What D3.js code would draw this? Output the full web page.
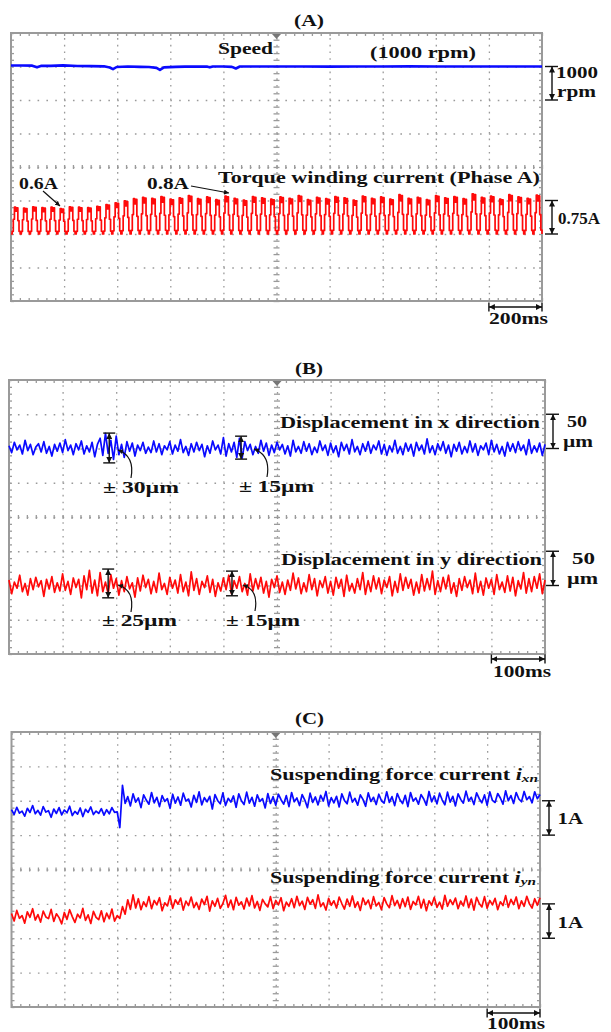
<!DOCTYPE html>
<html>
<head>
<meta charset="utf-8">
<script src="https://cdn.jsdelivr.net/npm/d3@7"></script>
<style>
  body { margin: 0; background: #fff; }
  svg { display: block; }
  text { font-family: "Liberation Serif", "Times New Roman", serif; font-weight: bold; fill: #111; }
</style>
</head>
<body>
<svg id="chart" width="611" height="1032"></svg>
<script>
// ---- Data ----

// (A) speed, rpm, 200 ms/div
const speedT = [0, 40, 80, 98, 115, 150, 196, 250, 300, 350, 372, 384, 398, 440, 486, 520, 548, 561, 576, 620,
  655, 700, 740, 749, 760, 800, 832, 847, 862, 900, 987, 1100, 1200, 1300, 1400, 1500, 1600, 1700, 1800, 1900, 2000];
const speedV = [1030, 1030, 1025, 975, 1020, 1020, 1035, 1015, 1010, 1005, 970, 920, 985, 1000, 990, 985, 960, 900, 975, 990,
  995, 1000, 995, 975, 1000, 1000, 990, 940, 1000, 1000, 1000, 1000, 995, 1000, 1000, 1005, 1000, 1000, 1000, 1000, 1000];

// (A) torque winding current: peak of each electrical cycle (A) and the stepped cycle shape
const torquePeaks = [0.60, 0.58, 0.61, 0.59, 0.60, 0.57, 0.61, 0.60, 0.59, 0.62,
  0.66, 0.70, 0.74, 0.79, 0.82, 0.80, 0.84, 0.78, 0.81, 0.86,
  0.79, 0.83, 0.77, 0.85, 0.80, 0.76, 0.84, 0.81, 0.78, 0.83,
  0.80, 0.86, 0.77, 0.82, 0.79, 0.84, 0.81, 0.76, 0.85, 0.80,
  0.83, 0.78, 0.88, 0.80, 0.82, 0.77, 0.86, 0.81, 0.84, 0.79,
  0.90, 0.82, 0.85, 0.78, 0.88, 0.83, 0.80, 0.87];
const torqueShape = [0, 0.1, 0.55, 1.0, 0.85, 0.98, 0.5, 0.1];

// (B) displacement, um, 100 ms/div, one sample every 5 ms
const SAMPLE_MS = 5;
const dispX = [4, -6, 9, -2, 5, -8, 12, -3, 6, -9, 2, 7, -5, 10, -7, 3, -11, 6, -4, 8,
  -6, 13, -3, 5, -9, 7, -2, 11, -8, 4, -5, 9, -12, 6, 15, -10, 22, -7, 12, -16,
  18, -9, 6, -13, 10, -4, 8, -11, 5, -3, 9, -7, 2, -6, 11, -5, 7, -9, 4, -2,
  10, -8, 5, -4, 13, -6, 3, -10, 7, -5, 9, -3, 6, -12, 4, -7, 11, -2, 5, -8,
  16, -11, 7, -5, 9, -13, 15, -14, 10, -3, 6, -9, 3, -7, 12, -4, 8, -10, 5, -6,
  9, -2, 6, -8, 4, -11, 12, -5, 3, -7, 10, -4, 7, -9, 2, -6, 11, -3, 5, -10,
  8, -6, 4, -12, 9, -3, 6, -8, 13, -5, 3, -9, 7, -4, 10, -7, 5, -2, 11, -8,
  6, -10, 4, -5, 12, -7, 3, -9, 8, -4, 6, -11, 9, -3, 5, -8, 14, -6, 4, -9,
  7, -3, 10, -7, 5, -12, 6, -4, 9, -8, 3, -6, 11, -5, 7, -10, 4, -2, 8, -9,
  12, -5, 6, -8, 3, -11, 9, -4, 7, -6, 10, -3, 5, -9, 13, -7, 4, -5, 8, -10,
  6];
const dispY = [8, -12, 5, -4, 15, -9, 3, -14, 10, -6, 12, -2, 7, -16, 9, -5, 13, -10, 4, -8,
  17, -7, 6, -13, 11, -3, 9, -18, 14, -6, 22, -11, 8, -15, 19, -9, 5, -12, 16, -4,
  10, -14, 7, -9, 13, -5, 4, -17, 11, -8, 15, -3, 9, -12, 6, -10, 18, -6, 3, -13,
  12, -4, 8, -11, 16, -9, 5, -15, 20, -7, 10, -13, 6, -3, 14, -10, 9, -16, 4, -8,
  11, -6, 15, -12, 7, -4, 13, -9, 3, -14, 17, -8, 10, -5, 12, -11, 6, -17, 9, -3,
  14, -10, 5, -13, 8, -7, 18, -5, 11, -12, 4, -9, 16, -6, 10, -15, 7, -3, 13, -11,
  6, -14, 12, -4, 9, -16, 15, -8, 3, -11, 10, -6, 19, -13, 7, -9, 14, -5, 11, -12,
  8, -3, 13, -15, 6, -10, 17, -7, 12, -4, 9, -14, 5, -11, 16, -8, 10, -6, 21, -13,
  7, -9, 12, -5, 15, -11, 4, -16, 10, -7, 13, -3, 8, -12, 18, -10, 6, -14, 11, -4,
  9, -13, 16, -6, 5, -10, 14, -8, 12, -15, 7, -5, 19, -11, 10, -9, 13, -4, 17, -12,
  8];

// (C) suspending force currents, A, 100 ms/div, one sample every 5 ms
const ixn = [0.74, 0.60, 0.81, 0.64, 0.70, 0.55, 0.78, 0.66, 0.86, 0.62, 0.72, 0.58, 0.83, 0.67, 0.71, 0.52, 0.76, 0.63, 0.80, 0.59,
  0.73, 0.65, 0.84, 0.57, 0.69, 0.61, 0.79, 0.54, 0.75, 0.66, 0.82, 0.60, 0.70, 0.63, 0.77, 0.58, 0.74, 0.62, 0.80, 0.66,
  0.68, 0.22, 1.45,
  0.92, 1.12, 0.85, 1.20, 0.96, 1.08, 0.80, 1.17, 1.02, 0.90, 1.24, 0.94, 1.10, 0.83, 1.15, 0.98, 1.06, 0.78, 1.19, 0.93,
  1.11, 0.87, 1.22, 0.99, 1.05, 0.82, 1.16, 0.95, 1.26, 0.88, 1.09, 0.97, 1.13, 0.76, 1.18, 1.01, 0.91, 1.23, 0.86, 1.07,
  0.96, 1.14, 0.81, 1.20, 1.00, 0.89, 1.25, 0.93, 1.10, 0.84, 1.17, 0.98, 1.06, 0.79, 1.21, 0.92, 1.12, 0.87, 1.19, 1.03,
  0.90, 1.15, 0.83, 1.24, 0.97, 1.08, 0.86, 1.18, 1.02, 0.80, 1.22, 0.95, 1.11, 0.88, 1.16, 0.99, 1.27, 0.85, 1.09, 0.94,
  1.13, 0.82, 1.20, 1.01, 0.91, 1.25, 0.96, 1.07, 0.87, 1.17, 1.04, 0.84, 1.23, 0.98, 1.10, 0.89, 1.19, 1.00, 0.93, 1.26,
  0.95, 1.12, 0.86, 1.21, 1.03, 0.92, 1.16, 0.83, 1.24, 0.99, 1.08, 0.90, 1.18, 1.05, 0.87, 1.27, 0.97, 1.14, 0.91, 1.22,
  1.02, 0.88, 1.25, 0.96, 1.13, 0.85, 1.20, 1.04, 0.93, 1.28, 0.99, 1.10, 0.89, 1.23, 1.06, 0.94, 1.17, 0.87, 1.26, 1.01,
  0.95, 1.21, 1.08, 0.90, 1.29, 1.00, 1.15, 0.92, 1.24, 1.05, 0.97, 1.27, 1.03, 1.12, 0.94, 1.26, 1.06, 1.18];
const iyn = [0.72, 0.50, 0.81, 0.58, 0.66, 0.44, 0.77, 0.61, 0.86, 0.53, 0.69, 0.47, 0.79, 0.62, 0.57, 0.84, 0.49, 0.71, 0.60, 0.42,
  0.75, 0.55, 0.83, 0.63, 0.46, 0.70, 0.59, 0.87, 0.52, 0.68, 0.43, 0.78, 0.61, 0.54, 0.80, 0.48, 0.73, 0.57, 0.85, 0.50,
  0.66, 0.58, 0.92, 0.70, 1.12, 0.84, 1.26, 0.88,
  1.15, 0.83, 1.06, 0.92, 1.21, 0.86, 1.10, 0.97, 1.18, 0.80, 1.03, 0.94, 1.23, 0.87, 1.12, 0.99, 1.17, 0.82, 1.08, 0.95,
  1.20, 0.89, 1.04, 0.84, 1.14, 0.98, 1.22, 0.79, 1.09, 0.93, 1.16, 0.87, 1.01, 1.25, 0.90, 1.11, 0.83, 1.19, 0.96, 1.06,
  0.85, 1.17, 0.94, 1.24, 0.88, 1.07, 0.81, 1.13, 1.00, 0.91, 1.21, 0.86, 1.10, 0.97, 1.18, 0.80, 1.05, 0.93, 1.15, 0.89,
  1.22, 0.95, 1.08, 0.84, 1.19, 0.99, 1.12, 0.87, 1.26, 0.92, 1.03, 0.82, 1.16, 0.96, 1.09, 0.88, 1.20, 1.01, 0.85, 1.14,
  0.93, 1.23, 0.90, 1.06, 0.81, 1.17, 0.98, 1.11, 0.86, 1.21, 0.94, 1.04, 0.83, 1.18, 1.00, 0.89, 1.24, 0.95, 1.10, 0.87,
  1.15, 0.92, 1.20, 0.84, 1.07, 0.97, 1.22, 0.88, 1.13, 0.80, 1.09, 0.96, 1.19, 0.90, 1.05, 0.85, 1.25, 0.93, 1.12, 0.98,
  1.17, 0.86, 1.08, 0.94, 1.23, 0.89, 1.14, 0.82, 1.19, 1.01, 0.91, 1.21, 0.87, 1.10, 0.97, 1.16, 0.83, 1.06, 0.95, 1.24,
  0.90, 1.13, 0.98, 1.20, 0.86, 1.09, 0.93, 1.22, 1.00, 0.88, 1.15, 0.96, 1.18];

// ---- Setup ----
const BLUE = '#0a0aff', RED = '#ff0a0a', GRID = '#9a9a9a', INK = '#111';
const NX = 10, NY = 8;
const svg = d3.select('#chart');

const defs = svg.append('defs');
function arrowMarker(id, size) {
  defs.append('marker').attr('id', id)
    .attr('viewBox', '0 0 10 10').attr('refX', 10).attr('refY', 5)
    .attr('markerWidth', size).attr('markerHeight', size)
    .attr('markerUnits', 'userSpaceOnUse').attr('orient', 'auto-start-reverse')
    .append('path').attr('d', 'M0,0L10,5L0,10z').attr('fill', INK);
}
arrowMarker('ah', 6);
arrowMarker('ah2', 5);

function panel(box, tMax) {
  const g = svg.append('g');
  const x = d3.scaleLinear().domain([0, tMax]).range([box.left, box.right]);
  const y = d3.scaleLinear().domain([0, NY]).range([box.bottom, box.top]);
  const w = box.right - box.left, h = box.bottom - box.top;
  const dx = w / NX, dy = h / NY;
  const style = s => s.call(a => a.select('.domain').remove())
    .selectAll('line').attr('stroke', GRID).attr('stroke-width', 1.3);

  // dotted grid
  g.append('g').attr('transform', `translate(0,${box.bottom})`)
    .call(d3.axisBottom(x).tickValues(d3.range(1, NX).map(i => tMax * i / NX)).tickSize(-h).tickFormat(''))
    .call(style).attr('stroke-dasharray', `1.6 ${dy / 5 - 1.6}`).attr('stroke-width', 1.6);
  g.append('g').attr('transform', `translate(${box.left},0)`)
    .call(d3.axisLeft(y).tickValues(d3.range(1, NY)).tickSize(-w).tickFormat(''))
    .call(style).attr('stroke-dasharray', `1.6 ${dx / 6 - 1.6}`).attr('stroke-width', 1.6);

  // minor ticks on the edges and on the centre cross
  const minorX = d3.range(0, NX * 6 + 1).map(k => tMax * k / (NX * 6));
  const minorY = d3.range(0, NY * 5 + 1).map(k => k / 5);
  g.append('g').attr('transform', `translate(0,${box.top})`)
    .call(d3.axisTop(x).tickValues(minorX).tickSize(-3).tickFormat('')).call(style);
  g.append('g').attr('transform', `translate(0,${box.bottom})`)
    .call(d3.axisBottom(x).tickValues(minorX).tickSize(-3).tickFormat('')).call(style);
  g.append('g').attr('transform', `translate(${box.left},0)`)
    .call(d3.axisLeft(y).tickValues(minorY).tickSize(-3).tickFormat('')).call(style);
  g.append('g').attr('transform', `translate(${box.right},0)`)
    .call(d3.axisRight(y).tickValues(minorY).tickSize(-3).tickFormat('')).call(style);
  g.append('g').attr('transform', `translate(0,${y(NY / 2) - 2})`)
    .call(d3.axisBottom(x).tickValues(minorX).tickSize(4).tickFormat('')).call(style);
  g.append('g').attr('transform', `translate(${x(tMax / 2) - 3},0)`)
    .call(d3.axisRight(y).tickValues(minorY).tickSize(6).tickFormat('')).call(style);

  g.append('rect')
    .attr('x', box.left).attr('y', box.top).attr('width', w).attr('height', h)
    .attr('fill', 'none').attr('stroke', GRID).attr('stroke-width', 2);

  // trigger marker
  const cx = x(tMax / 2);
  g.append('path')
    .attr('d', `M${cx - 4.5},${box.top + 1}L${cx + 4.5},${box.top + 1}L${cx},${box.top + 6}Z`)
    .attr('fill', '#777');

  return {g, x, y, box, tMax};
}

function channel(p, zeroDiv, perDiv) {
  return d3.scaleLinear().domain([0, perDiv]).range([p.y(zeroDiv), p.y(zeroDiv + 1)]);
}

function trace(p, yc, data, color, width, curve) {
  const line = d3.line().x(d => p.x(d.t)).y(d => yc(d.v)).curve(curve || d3.curveLinear);
  p.g.append('path').datum(data)
    .attr('d', line).attr('fill', 'none')
    .attr('stroke', color).attr('stroke-width', width).attr('stroke-linejoin', 'round');
}

const sampled = arr => arr.map((v, i) => ({t: i * SAMPLE_MS, v}));

function label(x0, base, w, str, size) {
  return svg.append('text').attr('x', x0).attr('y', base)
    .attr('textLength', w).attr('lengthAdjust', 'spacingAndGlyphs')
    .style('font-size', (size || 16) + 'px').text(str);
}

function subLabel(x0, base, w, main, sub) {
  const t = svg.append('text').attr('x', x0).attr('y', base)
    .attr('textLength', w).attr('lengthAdjust', 'spacingAndGlyphs').style('font-size', '16px');
  t.append('tspan').text(main + ' ');
  t.append('tspan').style('font-style', 'italic').text('i');
  t.append('tspan').style('font-style', 'italic').style('font-size', '11px').attr('dy', 2).text(sub);
}

function vDim(x, y1, y2, half) {
  const g = svg.append('g').attr('stroke', INK).attr('stroke-width', 1.4);
  g.append('line').attr('x1', x).attr('x2', x).attr('y1', y1).attr('y2', y2)
    .attr('marker-start', 'url(#ah)').attr('marker-end', 'url(#ah)');
  [y1, y2].forEach(yy => g.append('line')
    .attr('x1', x - half[0]).attr('x2', x + half[1]).attr('y1', yy).attr('y2', yy));
}

function hDim(p, yOff) {
  const x1 = p.x(p.tMax * 0.9), x2 = p.x(p.tMax), yy = p.box.bottom + yOff;
  const g = svg.append('g').attr('stroke', INK).attr('stroke-width', 1.4);
  g.append('line').attr('x1', x1).attr('x2', x2).attr('y1', yy).attr('y2', yy)
    .attr('marker-start', 'url(#ah)').attr('marker-end', 'url(#ah)');
  [x1, x2].forEach(xx => g.append('line')
    .attr('x1', xx).attr('x2', xx).attr('y1', yy - 4.5).attr('y2', yy + 4.5));
}

function arrow(d) {
  svg.append('path').attr('d', d).attr('fill', 'none')
    .attr('stroke', INK).attr('stroke-width', 1.2).attr('marker-end', 'url(#ah2)');
}

// ---- Panel A ----
const pA = panel({left: 11, top: 33, right: 542, bottom: 301}, 2000);
const ySpeed = channel(pA, 6, 1000);
const yTorque = channel(pA, 2, 0.75);

const period = 2000 / torquePeaks.length;
const torqueData = torquePeaks.flatMap((pk, k) =>
  torqueShape.map((s, j) => ({t: (k + j / torqueShape.length) * period, v: pk * s})));
torqueData.push({t: 2000, v: 0});

trace(pA, yTorque, torqueData, RED, 1.7, d3.curveStepAfter);
trace(pA, ySpeed, speedT.map((t, i) => ({t, v: speedV[i]})), BLUE, 2.6);

label(294, 26, 30, '(A)', 17);
label(218, 53.5, 55, 'Speed');
label(370, 57.5, 106, '(1000 rpm)');
label(556, 77.5, 42, '1000');
label(557, 96.5, 39, 'rpm');
vDim(552, ySpeed(1000), ySpeed(0), [7, 6]);
label(19, 188.5, 39, '0.6A');
label(147, 189, 42, '0.8A');
label(218, 182.5, 322, 'Torque winding current (Phase A)');
arrow('M43,191L60,206');
arrow('M191,186L229,193');
vDim(552, yTorque(0.75), yTorque(0), [7, 6]);
label(558, 224, 42, '0.75A');
hDim(pA, 6);
label(489, 324, 59, '200ms');

// ---- Panel B ----
const pB = panel({left: 9, top: 380, right: 545, bottom: 654}, 1000);
const yBx = channel(pB, 6, 50);
const yBy = channel(pB, 2, 50);
trace(pB, yBx, sampled(dispX), BLUE, 1.7);
trace(pB, yBy, sampled(dispY), RED, 1.7);

label(295, 373.5, 28, '(B)', 17);
label(280, 427.5, 260, 'Displacement in x direction');
vDim(553, yBx(50), yBx(0), [7, 6]);
label(567, 426.5, 20, '50');
label(563, 446.5, 30, 'µm');
vDim(pB.x(187), yBx(22.5), yBx(-21), [6, 6]);
vDim(pB.x(433), yBx(18), yBx(-15.5), [6, 6]);
arrow('M131,478Q135,456 118,450');
arrow('M267,477Q271,455 254,449');
label(103, 492.5, 76, '± 30µm');
label(239, 491.5, 75, '± 15µm');

label(281, 565, 261, 'Displacement in y direction');
vDim(553, yBy(50), yBy(0), [7, 6]);
label(572, 563.5, 23, '50');
label(567, 583.5, 31, 'µm');
vDim(pB.x(185), yBy(24), yBy(-18), [6, 6]);
vDim(pB.x(416), yBy(21), yBy(-15), [6, 6]);
arrow('M131,612Q135,590 118,585');
arrow('M255,611Q259,590 243,585');
label(102, 626, 75, '± 25µm');
label(226, 626, 74, '± 15µm');
hDim(pB, 5);
label(493, 677, 58, '100ms');

// ---- Panel C ----
const pC = panel({left: 11.5, top: 732, right: 540, bottom: 1007}, 1000);
const yCx = channel(pC, 5, 1);
const yCy = channel(pC, 2, 1);
trace(pC, yCx, sampled(ixn), BLUE, 1.7);
trace(pC, yCy, sampled(iyn), RED, 1.7);

label(295, 724, 29, '(C)', 17);
subLabel(270, 780, 268, 'Suspending force current', 'xn');
vDim(549, yCx(1), yCx(0), [7, 6]);
label(557.5, 824, 25.5, '1A');
subLabel(270, 882.5, 266, 'Suspending force current', 'yn');
vDim(549, yCy(1), yCy(0), [7, 6]);
label(557.5, 927.5, 25.5, '1A');
hDim(pC, 6);
label(487, 1029, 58, '100ms');
</script>
</body>
</html>
